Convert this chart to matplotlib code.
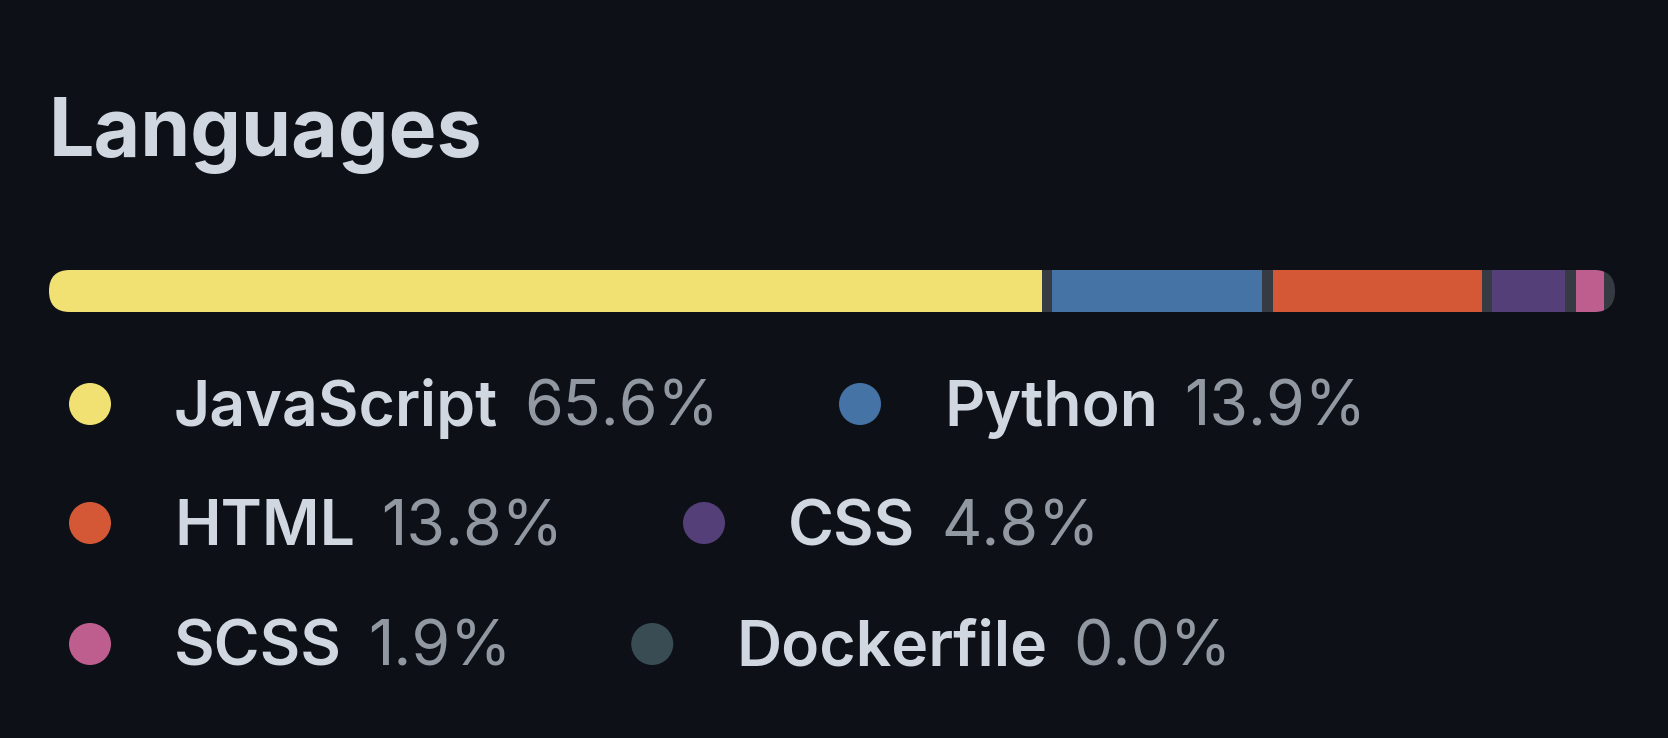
import matplotlib.pyplot as plt
from matplotlib.patches import FancyBboxPatch, Circle

# language data
languages = ['JavaScript', 'Python', 'HTML', 'CSS', 'SCSS', 'Dockerfile']
percents = [65.6, 13.9, 13.8, 4.8, 1.9, 0.0]
colors = ['#f1e072', '#4573a5', '#d55836', '#543f79', '#bd5e8e', '#3a4c53']
legend_rows = [[0, 1], [2, 3], [4, 5]]

BG = '#0d1117'
FG = '#d1d7e0'
MUTED = '#9198a1'
GAP_COLOR = '#363b43'
GAP = 0.7  # separator width, in percent units

plt.rcParams['font.family'] = ['Inter', 'DejaVu Sans']

W, H = 1668, 738
fig = plt.figure(figsize=(W / 100, H / 100), dpi=100, facecolor=BG)

# stacked language bar
bx0, bx1, by0, by1 = 49, 1615, 270, 312
bar_ax = fig.add_axes([bx0 / W, 1 - by1 / H, (bx1 - bx0) / W, (by1 - by0) / H])
total = sum(percents) + GAP * (len(percents) - 1)
bar_ax.set_xlim(0, total)
bar_ax.set_ylim(0, 1)
bar_ax.axis('off')
aspect = (bx1 - bx0) / (by1 - by0)
track = FancyBboxPatch((0, 0), 1, 1,
                       boxstyle=f'round,pad=0,rounding_size={0.5 / aspect}',
                       mutation_aspect=aspect, transform=bar_ax.transAxes,
                       facecolor=GAP_COLOR, edgecolor='none')
bar_ax.add_patch(track)
left = 0
for p, c in zip(percents, colors):
    bars = bar_ax.barh(0.5, p, left=left, height=1, color=c, linewidth=0)
    for b in bars:
        b.set_clip_path(track)
    left += p + GAP

# overlay axes in pixel coords for title + legend
ax = fig.add_axes([0, 0, 1, 1], facecolor='none')
ax.set_xlim(0, W)
ax.set_ylim(H, 0)
ax.axis('off')

ax.text(49, 156, 'Languages', color=FG, fontsize=58, fontweight='bold',
        va='baseline', ha='left')

renderer = fig.canvas.get_renderer()
row_y = [404, 523, 644]
dot_r = 21
for y, row in zip(row_y, legend_rows):
    x = 90
    for i in row:
        ax.add_patch(Circle((x, y), dot_r, color=colors[i], linewidth=0))
        t1 = ax.text(x + 84, y + 22, languages[i], color=FG, fontsize=45,
                     fontweight='semibold', va='baseline', ha='left')
        e1 = t1.get_window_extent(renderer)
        t2 = ax.text(e1.x1 + 26, y + 22, f'{percents[i]:.1f}%', color=MUTED,
                     fontsize=45, va='baseline', ha='left')
        e2 = t2.get_window_extent(renderer)
        x = e2.x1 + 120 + dot_r

fig.savefig('out.png', dpi=100, facecolor=BG)
